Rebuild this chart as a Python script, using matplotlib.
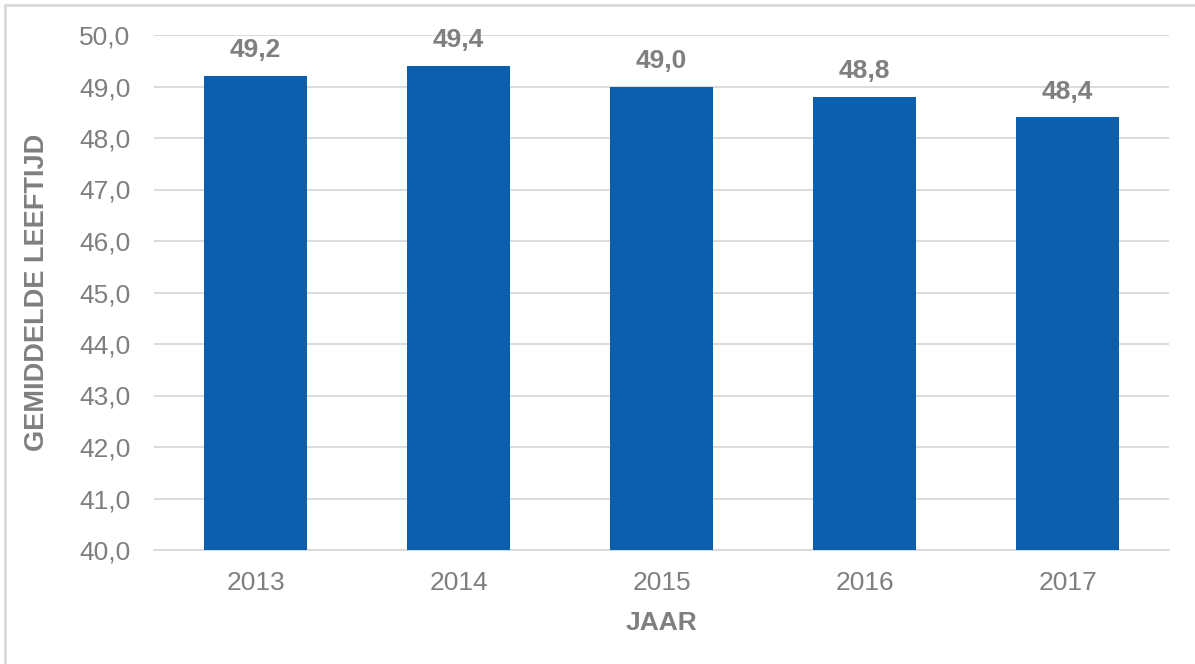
import matplotlib
matplotlib.use("Agg")
import matplotlib.pyplot as plt
from matplotlib.patches import Rectangle

years = ["2013", "2014", "2015", "2016", "2017"]
values = [49.2, 49.4, 49.0, 48.8, 48.4]
y_ticks = [40, 41, 42, 43, 44, 45, 46, 47, 48, 49, 50]

plt.rcParams['font.family'] = ['Liberation Sans', 'DejaVu Sans']
W, H = 1195, 664
fig = plt.figure(figsize=(W / 100, H / 100), dpi=100)
ax = fig.add_axes([154 / W, 1 - 550 / H, (1169 - 154) / W, (550 - 35) / H])

bar_color = "#0B5FAD"
text_color = "#7F7F7F"
grid_color = "#D9D9D9"
fs = 19

x = list(range(len(years)))
ax.bar(x, values, width=0.51, color=bar_color, zorder=3)
ax.set_xlim(-0.5, len(years) - 0.5)
ax.set_ylim(40, 50)
ax.set_yticks(y_ticks)
ax.set_yticklabels([f"{v:.1f}".replace(".", ",") for v in y_ticks])
ax.set_xticks(x)
ax.set_xticklabels(years)
ax.tick_params(axis="both", length=0, labelsize=fs, colors=text_color)
ax.tick_params(axis="y", pad=17)
ax.tick_params(axis="x", pad=15)
ax.grid(axis="y", color=grid_color, linewidth=1.3, zorder=0)
for s in ["top", "right", "left"]:
    ax.spines[s].set_visible(False)
ax.spines["bottom"].set_color(grid_color)
ax.spines["bottom"].set_linewidth(1.3)

for xi, v in zip(x, values):
    ax.annotate(f"{v:.1f}".replace(".", ","), (xi, v), xytext=(0, 10),
                textcoords="offset points", ha="center", va="bottom",
                fontsize=fs, fontweight="bold", color=text_color)

fig.text(37 / W, 1 - 292 / H, "GEMIDDELDE LEEFTIJD", rotation=90, ha="center", va="center",
         fontsize=fs + 0.5, fontweight="bold", color=text_color)
fig.text(661 / W, 1 - 623 / H, "JAAR", ha="center", va="center",
         fontsize=fs, fontweight="bold", color=text_color)

fig.patches.append(Rectangle((5 / W, -0.1), 1.2, 1 - 5 / H + 0.1, transform=fig.transFigure,
                             fill=False, edgecolor="#D9D9D9", linewidth=2, figure=fig))

fig.savefig("out.png", dpi=100)
